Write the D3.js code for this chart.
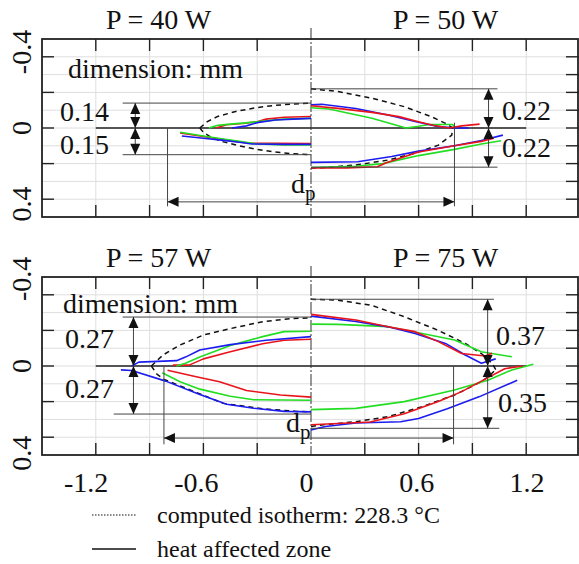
<!DOCTYPE html>
<meta charset="utf-8">
<style>
body { margin: 0; background: #fff; }
svg text { font-family: "Liberation Serif", "Times New Roman", serif; fill: #111; }
.grid line { stroke: #dedede; stroke-width: 1; }
.frame { fill: none; stroke: #222; stroke-width: 1.8; }
.tick { stroke: #222; stroke-width: 1.4; }
.dim { stroke: #444; stroke-width: 1; fill: none; }
.zero { stroke: #222; stroke-width: 1.6; }
.center { stroke: #333; stroke-width: 1; stroke-dasharray: 12,2,2,2; }
.haz { fill: none; stroke-width: 1.6; stroke-linejoin: round; }
.iso { fill: none; stroke: #111; stroke-width: 1.5; stroke-dasharray: 5,4; }
</style>
<body>
<script src="https://d3js.org/d3.v7.min.js"></script>
<script>

// ---- data (mm) : [x, y], y positive = downwards ----
var xTicks = [-1.2, -0.9, -0.6, -0.3, 0.3, 0.6, 0.9, 1.2];
var xLabels = [-1.2, -0.6, 0, 0.6, 1.2];
var yLabels = [-0.4, 0, 0.4];
var powers = ["P = 40 W", "P = 50 W", "P = 57 W", "P = 75 W"];
var dimLabels = [["0.14", "0.15"], ["0.22", "0.22"], ["0.27", "0.27"], ["0.37", "0.35"]];
var dimValues = [[-0.14, 0.15], [-0.22, 0.22], [-0.275, 0.27], [-0.375, 0.35]];

// P = 40 W (drawn on the left of the upper plot)
var iso40Up = [[-0.62,0],[-0.58,-0.035],[-0.52,-0.065],[-0.42,-0.093],[-0.3,-0.115],[-0.2,-0.127],[-0.1,-0.135],[0,-0.14]];
var iso40Lo = [[-0.62,0],[-0.6,0.025],[-0.56,0.05],[-0.5,0.075],[-0.4,0.1],[-0.3,0.12],[-0.2,0.135],[-0.1,0.145],[0,0.15]];
var red40Up = [[-0.53,0],[-0.47,-0.018],[-0.38,-0.025],[-0.3,-0.035],[-0.25,-0.05],[-0.15,-0.06],[0,-0.065]];
var grn40Up = [[-0.57,0],[-0.52,-0.015],[-0.45,-0.022],[-0.35,-0.03],[-0.25,-0.04],[-0.15,-0.05],[0,-0.055]];
var blu40Up = [[-0.44,0],[-0.36,-0.012],[-0.3,-0.03],[-0.2,-0.045],[-0.1,-0.05],[0,-0.054]];
var red40Lo = [[-0.73,0.028],[-0.6,0.048],[-0.5,0.063],[-0.4,0.078],[-0.34,0.086],[-0.2,0.086],[0,0.087]];
var grn40Lo = [[-0.73,0.024],[-0.6,0.045],[-0.5,0.06],[-0.4,0.075],[-0.3,0.09],[-0.15,0.095],[0,0.095]];
var blu40Lo = [[-0.72,0.045],[-0.6,0.058],[-0.5,0.068],[-0.4,0.08],[-0.33,0.09],[-0.15,0.092],[0,0.092]];

// P = 50 W (right of the upper plot)
var iso50Up = [[0,-0.22],[0.15,-0.205],[0.34,-0.167],[0.52,-0.12],[0.67,-0.064],[0.75,-0.026],[0.79,0]];
var iso50Lo = [[0,0.225],[0.06,0.223],[0.25,0.208],[0.43,0.18],[0.58,0.142],[0.71,0.096],[0.785,0.04],[0.79,0]];
var blu50Up = [[0,-0.13],[0.06,-0.133],[0.25,-0.11],[0.43,-0.073],[0.58,-0.036],[0.7,-0.01],[0.8,0],[0.88,0]];
var red50Up = [[0,-0.125],[0.15,-0.11],[0.34,-0.088],[0.49,-0.064],[0.6,-0.035],[0.68,-0.015],[0.77,0],[0.84,-0.012],[0.94,-0.022]];
var grn50Up = [[0,-0.114],[0.1,-0.107],[0.34,-0.055],[0.53,0],[0.6,-0.01],[0.66,-0.02],[0.79,-0.02],[0.8,0]];
var blu50Lo = [[0,0.193],[0.26,0.19],[0.45,0.16],[0.6,0.13],[0.8,0.1],[0.95,0.07],[1.07,0.04]];
var red50Lo = [[0,0.225],[0.2,0.224],[0.37,0.218],[0.42,0.195],[0.6,0.135],[0.8,0.1],[0.95,0.075],[1.02,0.058]];
var grn50Lo = [[0,0.222],[0.25,0.215],[0.4,0.2],[0.6,0.155],[0.8,0.12],[0.95,0.09],[1.06,0.072]];

// P = 57 W (left of the lower plot)
var iso57Up = [[-0.89,0],[-0.825,-0.062],[-0.73,-0.118],[-0.6,-0.174],[-0.45,-0.21],[-0.27,-0.249],[-0.12,-0.266],[0,-0.27]];
var iso57Lo = [[-0.89,0],[-0.86,0.045],[-0.82,0.075],[-0.64,0.148],[-0.49,0.21],[-0.27,0.24],[-0.08,0.255],[0,0.258]];
var blu57Up = [[-1.0,0],[-0.96,-0.022],[-0.75,-0.03],[-0.7,-0.05],[-0.62,-0.09],[-0.45,-0.12],[-0.25,-0.145],[0,-0.165]];
var grn57Up = [[-0.75,0],[-0.7,-0.015],[-0.62,-0.05],[-0.45,-0.115],[-0.27,-0.165],[-0.15,-0.193],[0,-0.195]];
var red57Up = [[-0.77,-0.005],[-0.68,-0.005],[-0.6,-0.04],[-0.45,-0.08],[-0.27,-0.125],[-0.15,-0.145],[0,-0.15]];
var blu57Lo = [[-1.06,0.022],[-1.0,0.025],[-0.81,0.085],[-0.62,0.16],[-0.47,0.215],[-0.32,0.237],[-0.15,0.255],[0,0.258]];
var grn57Lo = [[-0.83,0.038],[-0.73,0.088],[-0.62,0.13],[-0.45,0.17],[-0.32,0.19],[0,0.192]];
var red57Lo = [[-0.8,0.024],[-0.64,0.06],[-0.51,0.088],[-0.36,0.138],[-0.17,0.163],[0,0.175]];

// P = 75 W (right of the lower plot)
var iso75Up = [[0,-0.375],[0.15,-0.37],[0.34,-0.34],[0.52,-0.277],[0.71,-0.2],[0.86,-0.127],[0.95,-0.07],[1.01,-0.015],[1.03,0.02]];
var iso75Lo = [[0,0.34],[0.06,0.331],[0.25,0.313],[0.43,0.285],[0.62,0.228],[0.8,0.163],[0.95,0.088],[1.0,0.05],[1.03,0.02]];
var red75Up = [[0,-0.29],[0.25,-0.258],[0.43,-0.221],[0.58,-0.193],[0.71,-0.137],[0.84,-0.07],[0.97,-0.056],[1.01,-0.071]];
var blu75Up = [[0,-0.28],[0.25,-0.25],[0.43,-0.22],[0.58,-0.183],[0.75,-0.127],[0.86,-0.062],[0.95,-0.015],[1.03,-0.04]];
var grn75Up = [[0,-0.235],[0.15,-0.234],[0.43,-0.221],[0.62,-0.183],[0.8,-0.146],[0.95,-0.08],[1.12,-0.052]];
var red75Lo = [[0,0.33],[0.15,0.323],[0.33,0.315],[0.52,0.268],[0.71,0.2],[0.84,0.144],[0.95,0.085],[1.08,0.015],[1.18,0]];
var grn75Lo = [[0,0.245],[0.25,0.238],[0.52,0.2],[0.8,0.135],[0.99,0.079],[1.12,0.022],[1.24,-0.01]];
var blu75Lo = [[0,0.36],[0.08,0.34],[0.25,0.32],[0.5,0.313],[0.6,0.295],[0.76,0.24],[0.94,0.172],[1.15,0.08]];

var legendItems = ["computed isotherm: 228.3 \u00B0C", "heat affected zone"];

// ---- layout ----
var W = 579, H = 564;
var colors = { red: "#e8141c", grn: "#22dd22", blu: "#1c1cf0" };
var x = d3.scaleLinear().domain([-1.5, 1.5]).range([42, 580]);
var xLab = d3.scaleLinear().domain([-1.5, 1.5]).range([31, 582]);

var svg = d3.select("body").append("svg")
    .attr("width", W)
    .attr("height", H);

var plots = [
  { top: 39, bottom: 217, labOff: 12,
    curves: [
      { iso: [iso40Up, iso40Lo], haz: [[red40Up, "red"], [grn40Up, "grn"], [blu40Up, "blu"], [red40Lo, "red"], [grn40Lo, "grn"], [blu40Lo, "blu"]] },
      { iso: [iso50Up, iso50Lo], haz: [[grn50Up, "grn"], [blu50Up, "blu"], [red50Up, "red"], [grn50Lo, "grn"], [blu50Lo, "blu"], [red50Lo, "red"]] }
    ]},
  { top: 277, bottom: 455, labOff: 40,
    curves: [
      { iso: [iso57Up, iso57Lo], haz: [[red57Up, "red"], [grn57Up, "grn"], [blu57Up, "blu"], [red57Lo, "red"], [grn57Lo, "grn"], [blu57Lo, "blu"]] },
      { iso: [iso75Up, iso75Lo], haz: [[grn75Up, "grn"], [blu75Up, "blu"], [red75Up, "red"], [grn75Lo, "grn"], [blu75Lo, "blu"], [red75Lo, "red"]] }
    ]}
];

function arrow(g, tx, ty, dx, dy) {
  var L = 11, hw = 5;
  var bx = tx - dx * L, by = ty - dy * L;
  g.append("path")
      .attr("d", "M" + tx + "," + ty + "L" + (bx - dy * hw) + "," + (by + dx * hw) +
                 "L" + (bx + dy * hw) + "," + (by - dx * hw) + "Z")
      .attr("fill", "#111");
}

plots.forEach(function(p, pi) {
  var y = d3.scaleLinear().domain([-0.5, 0.5]).range([p.top, p.bottom]);
  var g = svg.append("g");

  // grid
  var grid = g.append("g").attr("class", "grid");
  grid.selectAll(".gy").data(d3.range(-4, 5).map(function(d) { return d / 10; }))
    .enter().append("line")
      .attr("x1", x(-1.5)).attr("x2", x(1.5))
      .attr("y1", function(d) { return y(d); }).attr("y2", function(d) { return y(d); });
  grid.selectAll(".gx").data(xTicks)
    .enter().append("line")
      .attr("x1", function(d) { return x(d); }).attr("x2", function(d) { return x(d); })
      .attr("y1", p.top).attr("y2", p.bottom);

  // ticks
  g.selectAll(".tl").data([-0.4, -0.2, 0, 0.2, 0.4]).enter().append("line")
      .attr("class", "tick")
      .attr("x1", x(-1.5)).attr("x2", x(-1.5) + 12)
      .attr("y1", function(d) { return y(d); }).attr("y2", function(d) { return y(d); });
  g.selectAll(".tr").data(d3.range(-4, 5).map(function(d) { return d / 10; })).enter().append("line")
      .attr("class", "tick")
      .attr("x1", W - 13).attr("x2", W)
      .attr("y1", function(d) { return y(d); }).attr("y2", function(d) { return y(d); });
  g.selectAll(".tt").data(xTicks).enter().append("line")
      .attr("class", "tick")
      .attr("x1", function(d) { return x(d); }).attr("x2", function(d) { return x(d); })
      .attr("y1", p.top).attr("y2", p.top + 12);
  g.selectAll(".tb").data(xTicks).enter().append("line")
      .attr("class", "tick")
      .attr("x1", function(d) { return x(d); }).attr("x2", function(d) { return x(d); })
      .attr("y1", p.bottom).attr("y2", p.bottom - 12);

  // y tick labels (rotated)
  g.selectAll(".yl").data(yLabels).enter().append("text")
      .attr("transform", function(d) { return "translate(31," + (y(d) + d * p.labOff) + ") rotate(-90)"; })
      .attr("text-anchor", "middle")
      .style("font-size", "28px")
      .text(function(d) { return d === 0 ? "0" : d3.format("")(d).replace("\u2212", "-"); });

  // zero line and centre line
  g.append("line").attr("class", "zero")
      .attr("x1", x(-1.2)).attr("x2", x(1.2)).attr("y1", y(0)).attr("y2", y(0));
  g.append("line").attr("class", "center")
      .attr("x1", x(0)).attr("x2", x(0)).attr("y1", p.top - 11).attr("y2", p.bottom);

  // curves
  var line = d3.line().x(function(d) { return x(d[0]); }).y(function(d) { return y(d[1]); });
  p.curves.forEach(function(c) {
    c.iso.forEach(function(s) {
      g.append("path").datum(s).attr("class", "iso").attr("d", line);
    });
    c.haz.forEach(function(s) {
      g.append("path").datum(s[0]).attr("class", "haz")
          .style("stroke", colors[s[1]]).attr("d", line);
    });
  });

  // dimension lines
  var dl = dimValues[pi * 2], dr = dimValues[pi * 2 + 1];
  var ll = dimLabels[pi * 2], lr = dimLabels[pi * 2 + 1];
  var leftX = pi === 0 ? [-1.05, -1.05] : [-1.05, -1.1];
  var rightX = pi === 0 ? [1.04, 1.04] : [1.02, 1.05];
  var arrL = pi === 0 ? -0.98 : -0.99, arrR = pi === 0 ? 0.99 : 0.985;
  [0, 1].forEach(function(i) {
    g.append("line").attr("class", "dim")
        .attr("x1", x(leftX[i])).attr("x2", x(0)).attr("y1", y(dl[i])).attr("y2", y(dl[i]));
    g.append("line").attr("class", "dim")
        .attr("x1", x(0)).attr("x2", x(rightX[i])).attr("y1", y(dr[i])).attr("y2", y(dr[i]));
    // vertical double arrows
    [[arrL, dl[i]], [arrR, dr[i]]].forEach(function(a) {
      var ax = x(a[0]), y1 = y(a[1]), y0 = y(0);
      g.append("line").attr("class", "dim").attr("x1", ax).attr("x2", ax).attr("y1", y1).attr("y2", y0);
      var s = y1 < y0 ? -1 : 1;
      arrow(g, ax, y1, 0, s);
      arrow(g, ax, y0, 0, -s);
    });
  });

  // dimension texts
  var lt = pi === 0 ? [[60, y(0) - 7], [60, y(0) + 26]] : [[65, y(0) - 18], [65, y(0) + 32]];
  var rt = pi === 0 ? [[502, y(0) - 8], [502, y(0) + 29]] : [[496, y(0) - 21], [498, y(0) + 46]];
  [0, 1].forEach(function(i) {
    g.append("text").attr("x", lt[i][0]).attr("y", lt[i][1]).style("font-size", "28px").text(ll[i]);
    g.append("text").attr("x", rt[i][0]).attr("y", rt[i][1]).style("font-size", "28px").text(lr[i]);
  });

  g.append("text")
      .attr("x", pi === 0 ? 68 : 63).attr("y", pi === 0 ? 78 : 313)
      .style("font-size", "28px")
      .text("dimension: mm");

  // d_p arrow
  var dpL = pi === 0 ? -0.8 : -0.82, dpR = pi === 0 ? 0.8 : 0.795;
  var dpY = pi === 0 ? 0.415 : 0.405;
  g.append("line").attr("class", "dim").attr("x1", x(dpL)).attr("x2", x(dpL)).attr("y1", y(0)).attr("y2", y(0.44));
  g.append("line").attr("class", "dim").attr("x1", x(dpR)).attr("x2", x(dpR)).attr("y1", y(pi === 0 ? -0.03 : 0)).attr("y2", y(0.44));
  g.append("line").attr("class", "dim").attr("x1", x(dpL)).attr("x2", x(dpR)).attr("y1", y(dpY)).attr("y2", y(dpY));
  arrow(g, x(dpL), y(dpY), -1, 0);
  arrow(g, x(dpR), y(dpY), 1, 0);
  var dp = g.append("text").attr("x", pi === 0 ? 291 : 286).attr("y", pi === 0 ? 193 : 432)
      .style("font-size", "28px");
  dp.append("tspan").text("d");
  dp.append("tspan").attr("dy", 7).style("font-size", "21px").text("p");

  // frame
  g.append("rect").attr("class", "frame")
      .attr("x", x(-1.5)).attr("y", p.top)
      .attr("width", W - 1 - x(-1.5)).attr("height", p.bottom - p.top);

  // titles
  g.append("text").attr("x", x(-0.85)).attr("y", p.top - 10)
      .attr("text-anchor", "middle").style("font-size", "28px").text(powers[pi * 2]);
  g.append("text").attr("x", x(0.75)).attr("y", p.top - 10)
      .attr("text-anchor", "middle").style("font-size", "28px").text(powers[pi * 2 + 1]);
});

// x tick labels
svg.selectAll(".xl").data(xLabels).enter().append("text")
    .attr("x", function(d) { return xLab(d); })
    .attr("y", 492)
    .attr("text-anchor", "middle")
    .style("font-size", "28px")
    .text(function(d) { return String(d); });

// legend
var leg = svg.append("g");
legendItems.forEach(function(t, i) {
  var ly = 515 + i * 34;
  leg.append("line")
      .attr("x1", 92).attr("x2", 136).attr("y1", ly).attr("y2", ly)
      .style("stroke", "#111")
      .style("stroke-width", i === 0 ? 1.2 : 1.5)
      .style("stroke-dasharray", i === 0 ? "1.5,1.5" : null);
  leg.append("text").attr("x", 157).attr("y", ly + 8)
      .style("font-size", "24px").text(t);
});

</script>
</body>
